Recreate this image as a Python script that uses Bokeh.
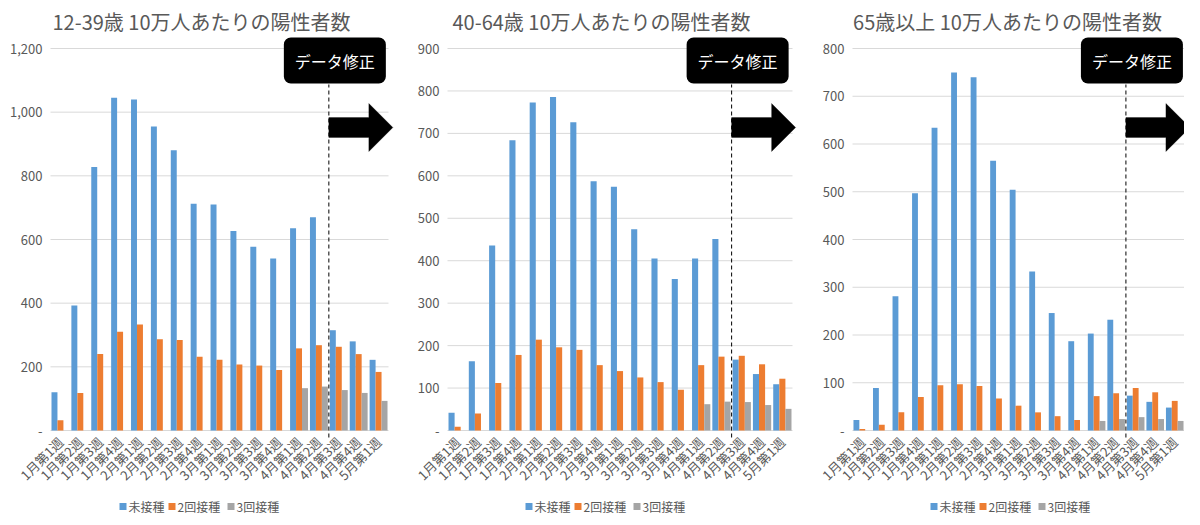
import math
from bokeh.plotting import figure
from bokeh.layouts import row
from bokeh.models import ColumnDataSource, Range1d, Label, PolyAnnotation
from bokeh.core.properties import value
from bokeh.transform import dodge
from bokeh.embed import file_html
from bokeh.resources import INLINE

FONT = "Noto Sans CJK JP"
GREY_TEXT = "#595959"

weeks = ["1月第1週", "1月第2週", "1月第3週", "1月第4週",
         "2月第1週", "2月第2週", "2月第3週", "2月第4週",
         "3月第1週", "3月第2週", "3月第3週", "3月第4週",
         "4月第1週", "4月第2週", "4月第3週", "4月第4週", "5月第1週"]
series = ["未接種", "2回接種", "3回接種"]
colors = ["#5B9BD5", "#ED7D31", "#A5A5A5"]

# 12-39歳
young_unvax = [120, 393, 828, 1045, 1040, 955, 880, 712, 710, 627, 577, 540, 635, 670, 315, 280, 222]
young_dose2 = [32, 118, 240, 310, 333, 287, 284, 232, 222, 207, 204, 190, 258, 268, 263, 240, 184]
young_dose3 = [0, 0, 0, 0, 0, 0, 0, 0, 0, 0, 0, 0, 133, 138, 127, 118, 93]

# 40-64歳
mid_unvax = [42, 163, 436, 684, 773, 786, 726, 587, 574, 474, 405, 357, 405, 451, 167, 133, 109]
mid_dose2 = [9, 40, 112, 178, 214, 196, 190, 154, 140, 125, 114, 96, 154, 174, 176, 156, 122]
mid_dose3 = [0, 0, 0, 0, 0, 0, 0, 0, 0, 0, 0, 0, 62, 68, 67, 60, 51]

# 65歳以上
old_unvax = [22, 89, 281, 497, 634, 750, 740, 565, 504, 333, 246, 187, 203, 232, 73, 60, 48]
old_dose2 = [3, 12, 38, 70, 95, 97, 93, 67, 52, 38, 30, 22, 72, 78, 89, 80, 62]
old_dose3 = [0, 0, 0, 0, 0, 0, 0, 0, 0, 0, 0, 0, 20, 24, 28, 24, 20]

titles = ["12-39歳 10万人あたりの陽性者数", "40-64歳 10万人あたりの陽性者数",
          "65歳以上 10万人あたりの陽性者数"]
y_max = [1200, 900, 800]
y_step = [200, 100, 100]

change_at = 14  # boundary between 4月第2週 and 4月第3週

H = 516
TOP = 48     # canvas y of the top gridline
ZERO = 430   # canvas y of the zero line


def make_panel(title, unvax, dose2, dose3, ymax, step, width, left, right, title_x, leg_x):
    # the frame covers the whole canvas; everything is placed through the scales
    catw = (width - left - right) / len(weeks)
    per_px = ymax / (ZERO - TOP)
    cx = lambda x: (x - left) / catw          # canvas x -> data x
    py = lambda y: (ZERO - y) * per_px        # canvas y -> data y
    px = lambda dx: change_at + dx / catw

    src = ColumnDataSource(dict(week=weeks, pos=[i + 0.5 for i in range(len(weeks))],
                                u=unvax, d2=dose2, d3=dose3))
    p = figure(x_range=Range1d(cx(0), cx(width)), y_range=Range1d(py(H), py(0)),
               width=width, height=H, title=None,
               x_axis_location=None, y_axis_location=None, min_border=0,
               output_backend="svg", toolbar_location=None)
    p.outline_line_color = None
    p.xgrid.visible = False
    p.ygrid.visible = False

    ticks = list(range(0, ymax + 1, step))
    tick_text = ["-" if t == 0 else f"{t:,}" for t in ticks]

    # gridlines and y tick labels
    p.segment(x0=0, x1=len(weeks), y0=ticks, y1=ticks, line_color="#D9D9D9", line_width=1)
    p.text(x=cx(left - 8), y=ticks, text=tick_text, text_align="right",
           text_baseline="middle", text_font=value(FONT), text_font_size="13px",
           text_color=GREY_TEXT)

    for col, off, c in zip(["u", "d2", "d3"], [-0.3, 0.0, 0.3], colors):
        p.vbar(x=dodge("pos", off), top=col, width=0.3,
               source=src, fill_color=c, line_color=None)

    # slanted week labels
    p.text(x="pos", y=py(439), text="week", source=src, angle=math.pi / 4,
           text_align="right", text_baseline="middle", text_font=value(FONT),
           text_font_size="13px", text_color=GREY_TEXT)

    # title
    p.add_layout(Label(x=cx(title_x), y=py(21), text=title, text_align="center",
                       text_baseline="middle", text_font=FONT, text_font_size="20px",
                       text_color=GREY_TEXT))

    # data correction marker
    p.segment(x0=[change_at], y0=[py(437)], x1=[change_at], y1=[py(84)],
              line_color="black", line_dash="4 3", line_width=1)
    p.add_layout(PolyAnnotation(
        xs=[px(0), px(40), px(40), px(64), px(40), px(40), px(0)],
        ys=[py(117), py(117), py(103), py(127), py(151), py(137), py(137)],
        fill_color="black", fill_alpha=1, line_color="black", line_width=1))
    p.add_layout(Label(x=px(6), y=py(60), text="データ修正", text_align="center",
                       text_baseline="middle", text_color="white", text_font=FONT,
                       text_font_size="16px", background_fill_color="black",
                       background_fill_alpha=1, border_radius=7, padding=11))

    # legend under the week labels
    for s, c, sq, tx in zip(series, colors, [0, 49, 108], [9, 58, 117]):
        p.scatter(x=[cx(leg_x + sq + 3.5)], y=[py(506)], marker="square", size=7,
                  fill_color=c, line_color=None)
        p.add_layout(Label(x=cx(leg_x + tx), y=py(506), text=s, text_color=GREY_TEXT,
                           text_font=FONT, text_font_size="12px", text_baseline="middle"))
    return p


p1 = make_panel(titles[0], young_unvax, young_dose2, young_dose3, y_max[0], y_step[0],
                401, 50, 13, 201, 119)
p2 = make_panel(titles[1], mid_unvax, mid_dose2, mid_dose3, y_max[1], y_step[1],
                401, 46, 10, 200, 124)
p3 = make_panel(titles[2], old_unvax, old_dose2, old_dose3, y_max[2], y_step[2],
                382, 50, 0, 205, 128)

p = row(p1, p2, p3)
open("out.html", "w").write(file_html(p, INLINE))
